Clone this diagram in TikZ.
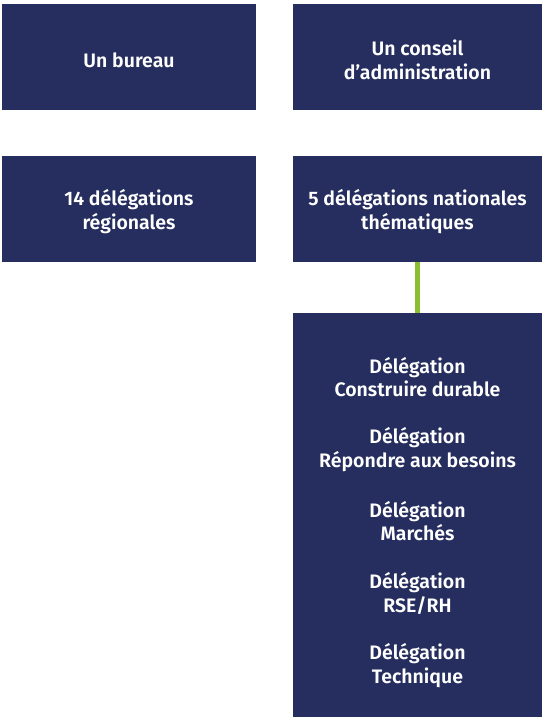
\documentclass[tikz,border=0pt]{standalone}
\usepackage{fontspec}
\setmainfont{Fira Sans}[UprightFont=* SemiBold]
\definecolor{navy}{HTML}{252E5E}
\definecolor{lgreen}{HTML}{8CBF2E}
\begin{document}
\begin{tikzpicture}[x=1pt,y=-1pt,
  lbl/.style={text=white,align=center,inner sep=0pt,font=\fontsize{19.5}{23.5}\selectfont}]
\useasboundingbox (0,0) rectangle (542,717);
\fill[navy] (2,4) rectangle (256,110);
\fill[navy] (293,4) rectangle (542,110);
\fill[navy] (2,156) rectangle (256,262);
\fill[navy] (293,156) rectangle (542,262);
\fill[navy] (293,313) rectangle (542,717);
\node[lbl] (bureau) at (129,60) {Un bureau};
\node[lbl] (ca) at (417.5,60) {Un conseil\\d’administration};
\node[lbl] (reg) at (129,211.5) {14 délégations\\régionales};
\node[lbl] (nat) at (417.5,211.5) {5 délégations nationales\\thématiques};
\coordinate (natb) at (417.5,262);
\coordinate (delt) at (417.5,313);
\draw[lgreen,line width=5pt] (natb) -- (delt);
\node[lbl] (d1) at (417.5,377) {Délégation\\Construire durable};
\node[lbl] (d2) at (417.5,449.5) {Délégation\\Répondre aux besoins};
\node[lbl] (d3) at (417.5,521) {Délégation\\Marchés};
\node[lbl] (d4) at (417.5,593.5) {Délégation\\RSE/RH};
\node[lbl] (d5) at (417.5,665.5) {Délégation\\Technique};
\end{tikzpicture}
\end{document}
